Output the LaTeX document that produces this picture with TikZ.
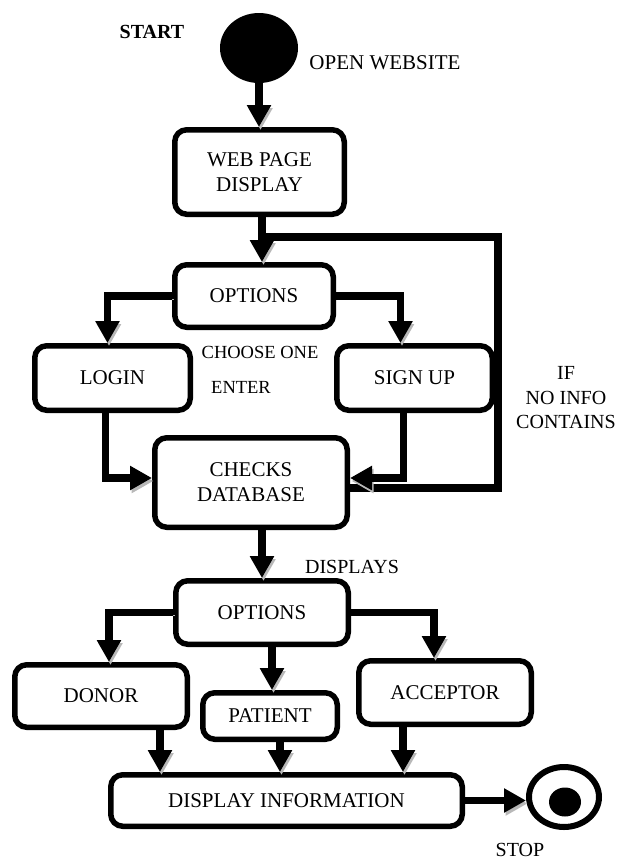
\documentclass[tikz,border=0pt]{standalone}
\usepackage{fontspec}
\setmainfont{Liberation Serif}
\usetikzlibrary{arrows.meta,shapes.geometric}

\tikzset{
  stepbox/.style={draw, line width=5.5pt, rounded corners=12pt, align=center,
    inner sep=0pt, font=\fontsize{21}{25}\selectfont},
  conn/.style={line width=7.5pt, -{Triangle[width=23pt,length=22pt]},
    preaction={draw=black!28, transform canvas={shift={(1.5pt,-3pt)}}}},
  link/.style={line width=7.5pt,
    preaction={draw=black!28, transform canvas={shift={(1.5pt,-3pt)}}}},
  lbl/.style={font=\fontsize{20}{24.5}\selectfont, align=center, inner sep=0pt},
  smalllbl/.style={font=\fontsize{18.5}{22}\selectfont, inner sep=0pt},
}

\begin{document}
\begin{tikzpicture}[x=1pt,y=-1pt]
\useasboundingbox (0,0) rectangle (617,863);

% start and stop states
\node (start) [ellipse, fill=black, minimum width=78pt, minimum height=70pt, inner sep=0pt] at (259,48) {};
\node (stop) [ellipse, draw, line width=6pt, minimum width=70pt, minimum height=60pt, inner sep=0pt] at (564,797) {};
\node (stopdot) [ellipse, fill=black, minimum width=32pt, minimum height=29pt, inner sep=0pt] at (565,802) {};

% activity boxes
\node (web) [stepbox, minimum width=169.5pt, minimum height=84.5pt] at (259.5,172) {WEB PAGE\\DISPLAY};
\node (opt1) [stepbox, minimum width=158.5pt, minimum height=62.5pt] at (254,296) {OPTIONS};
\node (login) [stepbox, minimum width=155.5pt, minimum height=64.5pt] at (112.5,378) {LOGIN};
\node (signup) [stepbox, minimum width=155.5pt, minimum height=64.5pt] at (414.5,378) {SIGN UP};
\node (check) [stepbox, minimum width=192.5pt, minimum height=89.5pt] at (251,482.5) {CHECKS\\DATABASE};
\node (opt2) [stepbox, minimum width=172.5pt, minimum height=63.5pt] at (262,612.5) {OPTIONS};
\node (donor) [stepbox, minimum width=172.5pt, minimum height=62.5pt] at (101,696) {DONOR};
\node (patient) [stepbox, minimum width=134.5pt, minimum height=46.5pt] at (270,716) {PATIENT};
\node (acceptor) [stepbox, minimum width=172.5pt, minimum height=63.5pt] at (445,692.5) {ACCEPTOR};
\node (display) [stepbox, minimum width=351.5pt, minimum height=51.5pt] at (286.5,800.5) {DISPLAY INFORMATION};

% labels
\node (startlbl) [lbl, font=\bfseries\fontsize{20}{24}\selectfont] at (152,32) {START};
\node (openlbl) [lbl, font=\fontsize{21}{25}\selectfont] at (385,63) {OPEN WEBSITE};
\node (chooselbl) [smalllbl] at (260,352) {CHOOSE ONE};
\node (enterlbl) [smalllbl] at (241,387) {ENTER};
\node (iflbl) [lbl] at (566,398) {IF\\NO INFO\\CONTAINS};
\node (displbl) [lbl] at (352,567) {DISPLAYS};
\node (stoplbl) [lbl] at (520,850) {STOP};

% routing points
\coordinate (j1) at (262,237);
\coordinate (fbT) at (498,237);
\coordinate (fbR) at (498,488);

% connectors
\draw[conn] (start.south) -- (start.south |- web.north);
\draw[link] (check.east |- fbR) -- (fbR) -- (fbT) -- (j1);
\draw[conn] (web.south -| j1) -- (opt1.north -| j1);
\draw[conn] (opt1.west) -| ([xshift=-5pt]login.north);
\draw[conn] (opt1.east) -| ([xshift=-14pt]signup.north);
\draw[conn] ([xshift=-7pt]login.south) |- ([yshift=4.5pt]check.west);
\draw[conn] ([xshift=-11pt]signup.south) |- ([yshift=4.5pt]check.east);
\draw[conn] (check.south -| opt2.north) -- (opt2.north);
\draw[conn] (opt2.west) -| ([xshift=8pt]donor.north);
\draw[conn] ([xshift=2pt]patient.north |- opt2.south) -- ([xshift=2pt]patient.north);
\draw[conn] (opt2.east) -| ([xshift=-11pt]acceptor.north);
\draw[conn] ([xshift=59pt]donor.south) -- ([xshift=59pt]donor.south |- display.north);
\draw[conn] ([xshift=10pt]patient.south) -- ([xshift=10pt]patient.south |- display.north);
\draw[conn] ([xshift=-42pt]acceptor.south) -- ([xshift=-42pt]acceptor.south |- display.north);
\draw[conn] (display.east) -- (display.east -| stop.west);
\end{tikzpicture}
\end{document}
